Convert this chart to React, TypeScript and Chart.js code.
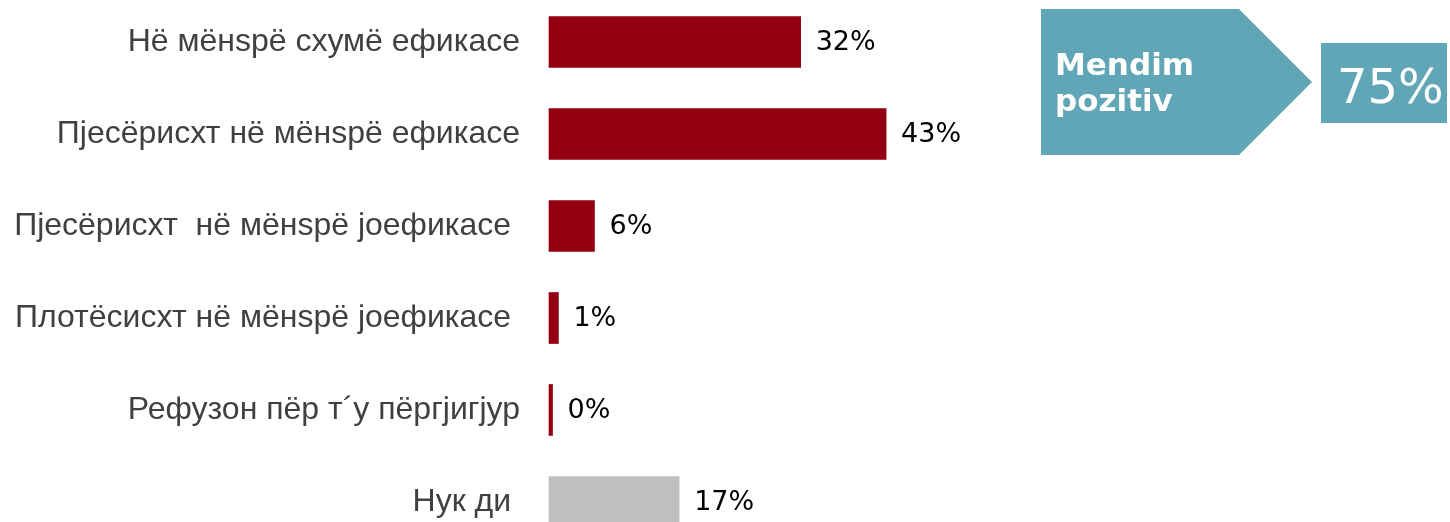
import React, { useEffect, useRef } from "react";
import { Chart, registerables } from "chart.js";

Chart.register(...registerables);

const categories = [
  "Нё мёнsрё схумё ефикасе",
  "Пјесёрисхт нё мёнsрё ефикасе",
  "Пјесёрисхт  нё мёнsрё јоефикасе ",
  "Плотёсисхт нё мёнsрё јоефикасе ",
  "Рефузон пёр т´у пёргјигјур",
  "Нук ди ",
];
const values = [32.1, 43, 5.8, 1.2, 0.45, 16.6];
const barColors = ["#940012", "#940012", "#940012", "#940012", "#940012", "#bfbfbf"];
const summaryTitle = ["Mendim", "pozitiv"];
const summaryValue = 75;

const TEAL = "#61a6b6";

const valueLabels = {
  id: "valueLabels",
  afterDatasetsDraw(chart: any) {
    const ctx = chart.ctx;
    const meta = chart.getDatasetMeta(0);
    ctx.save();
    ctx.font = "27px 'DejaVu Sans'";
    ctx.fillStyle = "#000000";
    ctx.textAlign = "left";
    ctx.textBaseline = "middle";
    meta.data.forEach((bar: any, i: number) => {
      const { x, y } = bar.getProps(["x", "y"], true);
      ctx.fillText(`${Math.round(values[i])}%`, x + 15, y + 1);
    });
    ctx.restore();
  },
};

const summaryBadge = {
  id: "summaryBadge",
  afterDraw(chart: any) {
    const ctx = chart.ctx;
    ctx.save();
    ctx.fillStyle = TEAL;
    ctx.beginPath();
    ctx.moveTo(1041, 9);
    ctx.lineTo(1239, 9);
    ctx.lineTo(1312, 82);
    ctx.lineTo(1239, 155);
    ctx.lineTo(1041, 155);
    ctx.closePath();
    ctx.fill();
    ctx.fillRect(1321, 43, 126, 80);

    ctx.fillStyle = "#ffffff";
    ctx.textAlign = "left";
    ctx.textBaseline = "alphabetic";
    ctx.font = "bold 31px 'DejaVu Sans'";
    ctx.fillText(summaryTitle[0], 1055, 75);
    ctx.fillText(summaryTitle[1], 1055, 111);
    ctx.font = "48px 'DejaVu Sans'";
    ctx.fillText(`${summaryValue}%`, 1337, 103);
    ctx.restore();
  },
};

export default function App() {
  const canvasRef = useRef<HTMLCanvasElement | null>(null);

  useEffect(() => {
    if (!canvasRef.current) return;
    const chart = new Chart(canvasRef.current, {
      type: "bar",
      data: {
        labels: categories,
        datasets: [
          {
            data: values,
            backgroundColor: barColors,
            borderWidth: 0,
            barThickness: 51,
            clip: false,
          },
        ],
      },
      options: {
        indexAxis: "y",
        animation: false,
        responsive: true,
        maintainAspectRatio: false,
        layout: { padding: { top: 42, bottom: 20, right: 117, left: 0 } },
        plugins: {
          legend: { display: false },
          tooltip: { enabled: false },
        },
        scales: {
          x: {
            display: false,
            min: 0,
            max: 100,
          },
          y: {
            offset: false,
            grid: { display: false, drawTicks: false },
            border: { display: false },
            ticks: {
              padding: 29,
              autoSkip: false,
              color: "#404040",
              font: { family: "'Liberation Sans', Arial, sans-serif", size: 32 },
            },
            afterFit(scale: any) {
              scale.width = 549;
              scale.paddingTop = 0;
              scale.paddingBottom = 0;
            },
          },
        },
      },
      plugins: [valueLabels, summaryBadge],
    });
    return () => chart.destroy();
  }, []);

  return (
    <div style={{ position: "absolute", left: 0, top: 0, width: 1450, height: 522, background: "#ffffff" }}>
      <canvas ref={canvasRef} />
    </div>
  );
}
